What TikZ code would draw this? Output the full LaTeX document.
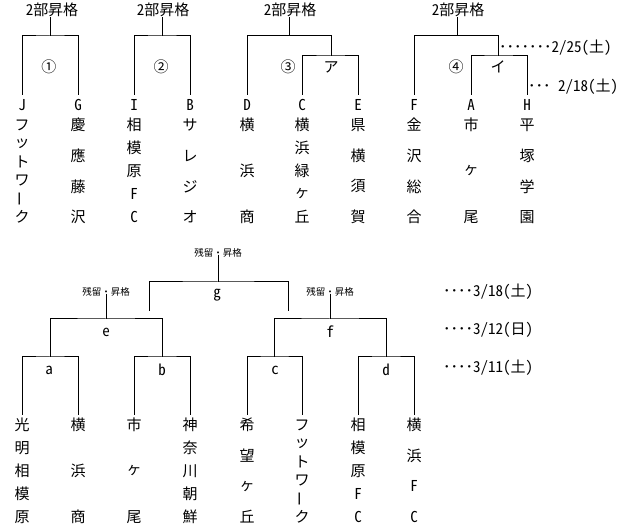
\documentclass[tikz,border=0pt]{standalone}
\usepackage{fontspec}
\usepackage{graphicx}
\setmainfont{Noto Sans CJK JP}[RawFeature=+hwid]
\newcommand\vchoon{\rotatebox[origin=c]{90}{ー}}
\newcommand\tcol[5]{%
  \foreach \tchar [count=\ti] in {#5} {%
    \node[tch] (#1-\ti) at (#2, {#3+(\ti-1)*92/(#4-1)}) {\tchar};}}
\begin{document}
\begin{tikzpicture}[x=1pt,y=-1pt,
  ln/.style={line width=1pt},
  tch/.style={inner sep=0pt,font=\fontsize{15}{18}\selectfont},
  lbl/.style={inner sep=0pt,font=\fontsize{15}{18}\selectfont},
  sml/.style={inner sep=0pt,font=\fontsize{9.5}{11}\selectfont},
  dt/.style={inner sep=0pt,anchor=west,font=\fontsize{15}{18}\selectfont}]
\useasboundingbox[fill=white] (0,0) rectangle (622,526);

% ---------- top brackets ----------
\node[lbl] (t1) at (52,10) {2部昇格};
\node[lbl] (t2) at (163,10) {2部昇格};
\node[lbl] (t3) at (290,10) {2部昇格};
\node[lbl] (t4) at (458,10) {2部昇格};

\coordinate (m1) at (50,36);
\coordinate (m2) at (162,36);
\coordinate (m3) at (289,36);
\coordinate (m4) at (457,36);
\coordinate (j3) at (331,36);
\coordinate (k3) at (331,56);
\coordinate (j4) at (498,36);
\coordinate (k4) at (498,56);

\coordinate (dJ) at (22,95);
\coordinate (dG) at (78,95);
\coordinate (dI) at (134,95);
\coordinate (dB) at (190,95);
\coordinate (dD) at (247,95);
\coordinate (dC) at (302,95);
\coordinate (dE) at (358,95);
\coordinate (dF) at (414,95);
\coordinate (dA) at (471,95);
\coordinate (dH) at (527,95);

\draw[ln] (m1 |- t1.south) -- (m1);
\draw[ln] (dJ) |- (m1) -| (dG);
\draw[ln] (m2 |- t2.south) -- (m2);
\draw[ln] (dI) |- (m2) -| (dB);
\draw[ln] (m3 |- t3.south) -- (m3);
\draw[ln] (dD) |- (j3) -- (k3);
\draw[ln] (dC) |- (k3) -| (dE);
\draw[ln] (m4 |- t4.south) -- (m4);
\draw[ln] (dF) |- (j4) -- (k4);
\draw[ln] (dA) |- (k4) -| (dH);

\node[lbl] (n1) at (49,67) {①};
\node[lbl] (n2) at (161,67) {②};
\node[lbl] (n3) at (288,67) {③};
\node[lbl] (na) at (331,67) {ア};
\node[lbl] (n4) at (456,67) {④};
\node[lbl] (ni) at (498,67) {イ};

\node[dt] (date1) at (499,48) {･･･････2/25(土)};
\node[dt] (date2) at (528,87) {･･･ 2/18(土)};

% letters
\node[tch] (LJ) at (22,105) {J};
\node[tch] (LG) at (78,105) {G};
\node[tch] (LI) at (134,105) {I};
\node[tch] (LB) at (190,105) {B};
\node[tch] (LD) at (247,105) {D};
\node[tch] (LC) at (302,105) {C};
\node[tch] (LE) at (358,105) {E};
\node[tch] (LF) at (414,105) {F};
\node[tch] (LA) at (471,105) {A};
\node[tch] (LH) at (527,105) {H};

\tcol{tJ}{22}{125}{6}{フ,ッ,ト,ワ,\vchoon,ク}
\tcol{tG}{78}{125}{4}{慶,應,藤,沢}
\tcol{tI}{134}{125}{5}{相,模,原,F,C}
\tcol{tB}{190}{125}{4}{サ,レ,ジ,オ}
\tcol{tD}{247}{125}{3}{横,浜,商}
\tcol{tC}{302}{125}{5}{横,浜,緑,ヶ,丘}
\tcol{tE}{358}{125}{4}{県,横,須,賀}
\tcol{tF}{414}{125}{4}{金,沢,総,合}
\tcol{tA}{471}{125}{3}{市,ヶ,尾}
\tcol{tH}{527}{125}{4}{平,塚,学,園}

% ---------- bottom bracket ----------
\node[sml] (rg) at (218,253) {残留・昇格};
\node[sml] (re) at (106,292) {残留・昇格};
\node[sml] (rf) at (330,292) {残留・昇格};

\coordinate (mg) at (218,282);
\coordinate (g1) at (149,311);
\coordinate (g2) at (288,311);
\coordinate (me) at (106,319);
\coordinate (mf) at (330,319);
\coordinate (ea) at (50,357);
\coordinate (eb) at (162,357);
\coordinate (fc) at (274.5,357);
\coordinate (fd) at (386,357);

\coordinate (b1) at (22,415);
\coordinate (b2) at (78,415);
\coordinate (b3) at (134,415);
\coordinate (b4) at (190,415);
\coordinate (b5) at (247,415);
\coordinate (b6) at (302,415);
\coordinate (b7) at (358,415);
\coordinate (b8) at (414,415);

\draw[ln] ([yshift=3pt]rg.south) -- (mg);
\draw[ln] (g1) |- (mg) -| (g2);
\draw[ln] ([yshift=3pt]re.south) -- (me);
\draw[ln] (ea) |- (me) -| (eb);
\draw[ln] ([yshift=3pt]rf.south) -- (mf);
\draw[ln] (fc) |- (mf) -| (fd);
\draw[ln] (b1) |- (ea) -| (b2);
\draw[ln] (b3) |- (eb) -| (b4);
\draw[ln] (b5) |- (fc) -| (b6);
\draw[ln] (b7) |- (fd) -| (b8);

\node[lbl] (lg) at (217,295) {g};
\node[lbl] (le) at (106,332) {e};
\node[lbl] (lf) at (330,332) {f};
\node[lbl] (la) at (49,370) {a};
\node[lbl] (lb) at (162,370) {b};
\node[lbl] (lc) at (275,370) {c};
\node[lbl] (ld) at (386,370) {d};

\node[dt] (date3) at (443,292) {････3/18(土)};
\node[dt] (date4) at (443,330) {････3/12(日)};
\node[dt] (date5) at (443,368) {････3/11(土)};

\tcol{u1}{22}{425}{5}{光,明,相,模,原}
\tcol{u2}{78}{425}{3}{横,浜,商}
\tcol{u3}{134}{425}{3}{市,ヶ,尾}
\tcol{u4}{190}{425}{5}{神,奈,川,朝,鮮}
\tcol{u5}{247}{425}{4}{希,望,ヶ,丘}
\tcol{u6}{302}{425}{6}{フ,ッ,ト,ワ,\vchoon,ク}
\tcol{u7}{358}{425}{5}{相,模,原,F,C}
\tcol{u8}{414}{425}{4}{横,浜,F,C}
\end{tikzpicture}
\end{document}
